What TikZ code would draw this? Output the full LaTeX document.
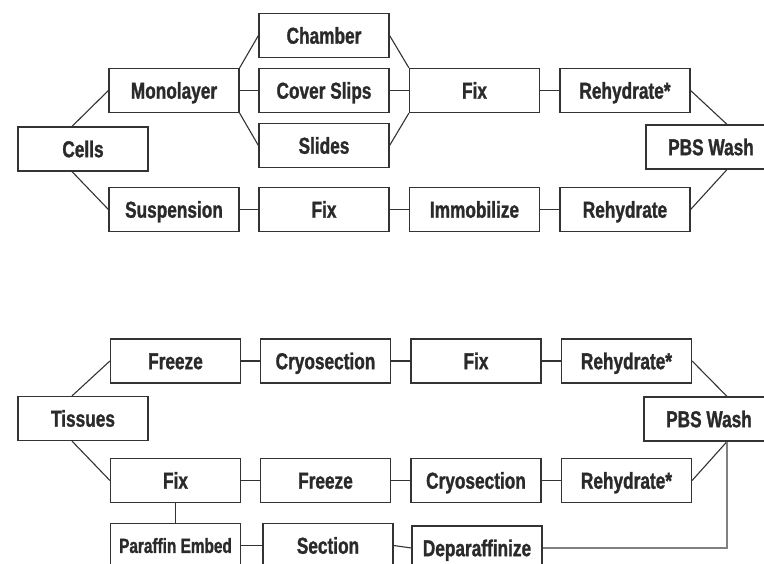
\documentclass[tikz,border=0pt]{standalone}
\usepackage{fontspec}
\newfontfamily\boxfont{Liberation Sans}[FakeStretch=0.75, BoldFeatures={FakeBold=1.2}]
\usetikzlibrary{calc}
\definecolor{txt}{HTML}{2A2A2A}
\definecolor{ln}{HTML}{333333}
\definecolor{grayln}{HTML}{808080}
\begin{document}
\begin{tikzpicture}[x=1pt,y=-1pt,
  stepbox/.style={draw=ln, line width=1.2pt, fill=white, minimum width=130pt, minimum height=44pt,
    inner sep=0pt, text height=16.4pt, text depth=0pt, text=txt,
    font=\boxfont\bfseries\fontsize{23}{27}\selectfont},
  smallbox/.style={stepbox, text height=14.8pt, font=\boxfont\bfseries\fontsize{20.5}{24}\selectfont},
  conn/.style={draw=ln, line width=1.1pt},
  grayconn/.style={draw=grayln, line width=1.3pt}]
\useasboundingbox (0,0) rectangle (764,564);
\clip (0,0) rectangle (764,564);
\fill[white] (0,0) rectangle (764,564);

% ---- top half: cells ----
\node[stepbox] (cells) at (83,149) {Cells};
\node[stepbox] (mono) at (174,90.5) {Monolayer};
\node[stepbox] (susp) at (174,209.5) {Suspension};
\node[stepbox] (chamber) at (324,35.5) {Chamber};
\node[stepbox] (cover) at (324,90.5) {Cover Slips};
\node[stepbox] (slides) at (324,145.5) {Slides};
\node[stepbox] (fixa) at (474.5,90.5) {Fix};
\node[stepbox] (fixs) at (324,209.5) {Fix};
\node[stepbox] (immob) at (474.5,209.5) {Immobilize};
\node[stepbox] (rehya) at (625,90.5) {Rehydrate*};
\node[stepbox] (rehyb) at (625,209.5) {Rehydrate};
\node[stepbox] (pbsa) at (711,147) {PBS Wash};

\draw[conn] ([xshift=-11pt]cells.north) -- (mono.west);
\draw[conn] ([xshift=-11pt]cells.south) -- (susp.west);
\draw[conn] (mono.north east) -- (chamber.west);
\draw[conn] (mono.east) -- (cover.west);
\draw[conn] (mono.south east) -- (slides.west);
\draw[conn] (chamber.east) -- (fixa.north west);
\draw[conn] (cover.east) -- (fixa.west);
\draw[conn] (slides.east) -- (fixa.south west);
\draw[conn] (fixa.east) -- (rehya.west);
\draw[conn] (susp.east) -- (fixs.west);
\draw[conn] (fixs.east) -- (immob.west);
\draw[conn] (immob.east) -- (rehyb.west);
\draw[conn] (rehya.east) -- ([xshift=16pt]pbsa.north);
\draw[conn] ([xshift=16pt]pbsa.south) -- (rehyb.east);

% ---- bottom half: tissues ----
\node[stepbox] (tissues) at (83,418.5) {Tissues};
\node[stepbox] (freezea) at (175.5,361) {Freeze};
\node[stepbox] (cryoa) at (325.5,361) {Cryosection};
\node[stepbox] (fixb) at (476,361) {Fix};
\node[stepbox] (rehyc) at (626.5,361) {Rehydrate*};
\node[stepbox] (pbsb) at (709,419) {PBS Wash};
\node[stepbox] (fixc) at (175.5,480.5) {Fix};
\node[stepbox] (freezeb) at (325.5,480.5) {Freeze};
\node[stepbox] (cryob) at (476,480.5) {Cryosection};
\node[stepbox] (rehyd) at (626.5,480.5) {Rehydrate*};
\node[smallbox] (paraffin) at (175.5,545.5) {Paraffin Embed};
\node[stepbox] (section) at (328,545.5) {Section};
\node[stepbox] (depar) at (477,548) {Deparaffinize};
\coordinate (corner) at ([xshift=18pt]pbsb.south |- depar.east);

\draw[conn] ([xshift=-11pt]tissues.north) -- (freezea.west);
\draw[conn] ([xshift=-11pt]tissues.south) -- (fixc.west);
\draw[conn] (freezea.east) -- (cryoa.west);
\draw[conn] (cryoa.east) -- (fixb.west);
\draw[conn] (fixb.east) -- (rehyc.west);
\draw[conn] (fixc.east) -- (freezeb.west);
\draw[conn] (freezeb.east) -- (cryob.west);
\draw[conn] (cryob.east) -- (rehyd.west);
\draw[conn] (rehyc.east) -- ([xshift=18pt]pbsb.north);
\draw[conn] ([xshift=18pt]pbsb.south) -- (rehyd.east);
\draw[conn] (fixc.south) -- (paraffin.north);
\draw[conn] (paraffin.east) -- (section.west);
\draw[conn] (section.east) -- (depar.west);
\draw[grayconn] (depar.east) -- (corner) -- ([xshift=18pt]pbsb.south);
\end{tikzpicture}
\end{document}
